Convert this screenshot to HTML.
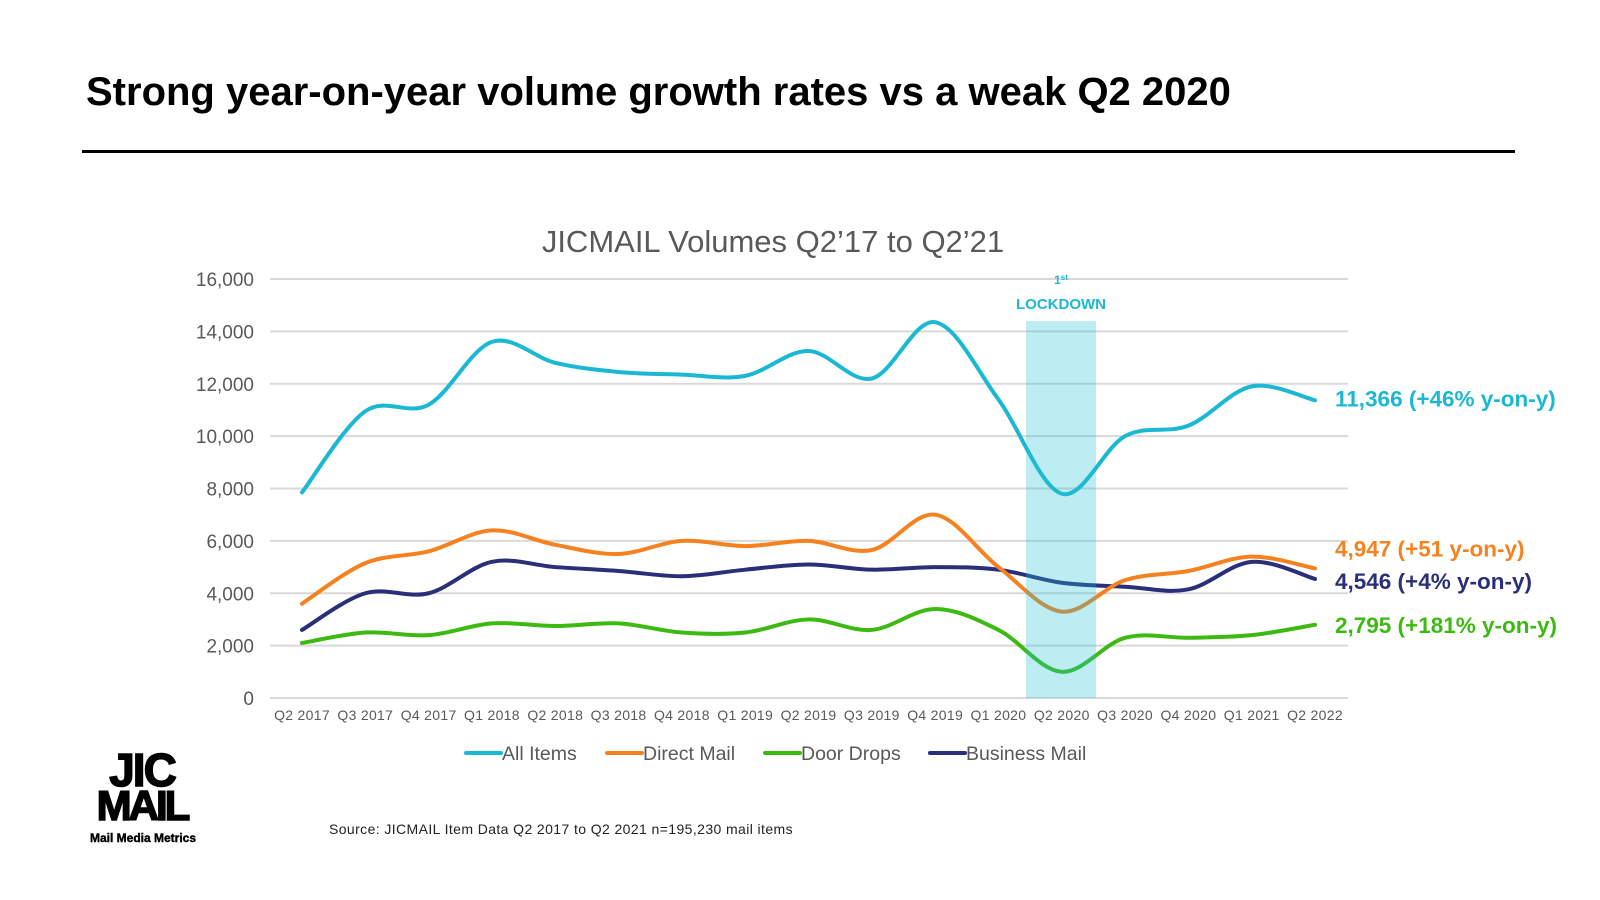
<!DOCTYPE html>
<html><head><meta charset="utf-8"><style>
html,body{margin:0;padding:0;background:#fff;width:1600px;height:900px;overflow:hidden;font-family:"Liberation Sans",Arial,sans-serif;}
</style></head><body>
<svg width="1600" height="900" viewBox="0 0 1600 900" xmlns="http://www.w3.org/2000/svg" font-family="Liberation Sans, Arial, sans-serif">
<text x="86" y="105" font-size="40" font-weight="bold" fill="#000">Strong year-on-year volume growth rates vs a weak Q2 2020</text>
<rect x="82" y="150" width="1433" height="3" fill="#000"/>
<text x="773" y="252" font-size="31" fill="#595959" text-anchor="middle">JICMAIL Volumes Q2’17 to Q2’21</text>
<g id="grid"></g>
<g id="series"></g>
<rect x="1026" y="321" width="70" height="377" fill="#27c0d6" opacity="0.3"/>
<text x="1061" y="284" font-size="12" font-weight="bold" fill="#1ab8d2" text-anchor="middle">1<tspan font-size="8" dy="-4">st</tspan></text>
<text x="1061" y="309" font-size="15" font-weight="bold" fill="#1ab8d2" text-anchor="middle">LOCKDOWN</text>
<g id="labels"></g>
<g id="legend"></g>
<g>
<text x="142" y="786" font-size="46" font-weight="900" fill="#000" text-anchor="middle" letter-spacing="-2" stroke="#000" stroke-width="1.5">JIC</text>
<text x="142" y="820" font-size="42" font-weight="900" fill="#000" text-anchor="middle" letter-spacing="-3" stroke="#000" stroke-width="1.5">MAIL</text>
<text x="143" y="842" font-size="12" font-weight="900" fill="#000" text-anchor="middle" stroke="#000" stroke-width="0.4">Mail Media Metrics</text>
</g>
<text x="329" y="834" font-size="14" fill="#222" letter-spacing="0.4">Source: JICMAIL Item Data Q2 2017 to Q2 2021 n=195,230 mail items</text>
</svg>
<script>
const categories=["Q2 2017","Q3 2017","Q4 2017","Q1 2018","Q2 2018","Q3 2018","Q4 2018","Q1 2019","Q2 2019","Q3 2019","Q4 2019","Q1 2020","Q2 2020","Q3 2020","Q4 2020","Q1 2021","Q2 2022"];
const allItems=[7850,10950,11200,13600,12800,12450,12350,12300,13250,12200,14350,11400,7800,10000,10400,11900,11366];
const directMail=[3600,5150,5600,6400,5850,5500,6000,5800,6000,5650,7000,5000,3300,4500,4850,5400,4947];
const doorDrops=[2100,2500,2400,2850,2750,2850,2500,2500,3000,2600,3400,2600,1000,2300,2300,2400,2795];
const businessMail=[2600,4000,4000,5200,5000,4850,4650,4900,5100,4900,5000,4900,4400,4250,4150,5200,4546];
const yTicks=[0,2000,4000,6000,8000,10000,12000,14000,16000];
const endLabels=["11,366 (+46% y-on-y)","4,947 (+51 y-on-y)","2,795 (+181% y-on-y)","4,546 (+4% y-on-y)"];
const seriesNames=["All Items","Direct Mail","Door Drops","Business Mail"];
const NS="http://www.w3.org/2000/svg";
const X0=302,X1=1315,Y0=698,Y1=279,YMAX=16000;
function xs(i){return X0+(X1-X0)*i/(categories.length-1);}
function ys(v){return Y0-(Y0-Y1)*v/YMAX;}
function mk(t,a,p){const e=document.createElementNS(NS,t);for(const k in a)e.setAttribute(k,a[k]);p.appendChild(e);return e;}
const grid=document.getElementById('grid');
yTicks.forEach(v=>{
 const l=mk('line',{x1:270,x2:1348,y1:ys(v),y2:ys(v),stroke:'#d9d9d9','stroke-width':2},grid);
 
 
 const t=mk('text',{x:254,y:ys(v)+7,'font-size':19,fill:'#595959','text-anchor':'end'},grid);
 t.textContent=v.toLocaleString('en-US');
 
 
});
categories.forEach((c,i)=>{
 const t=mk('text',{x:xs(i),y:720,'font-size':14,fill:'#595959','text-anchor':'middle','letter-spacing':'0.3'},grid);
 t.textContent=c;
 
 
});
function path(vals){
 const p=vals.map((v,i)=>[xs(i),ys(v)]);
 let d='M'+p[0][0]+','+p[0][1];
 for(let i=0;i<p.length-1;i++){
  const a=p[Math.max(0,i-1)],b=p[i],c=p[i+1],e=p[Math.min(p.length-1,i+2)];
  const t=1/6;
  d+=' C'+(b[0]+(c[0]-a[0])*t)+','+(b[1]+(c[1]-a[1])*t)+' '+(c[0]-(e[0]-b[0])*t)+','+(c[1]-(e[1]-b[1])*t)+' '+c[0]+','+c[1];
 }
 return d;
}
const colors=['#1ab8d2','#f5821f','#3cba12','#2a2f7a'];
const data=[allItems,directMail,doorDrops,businessMail];
const sg=document.getElementById('series');
const names=['line-all-items','line-direct-mail','line-door-drops','line-business-mail'];
[2,3,1,0].forEach(k=>{
 const p=mk('path',{d:path(data[k]),fill:'none',stroke:colors[k],'stroke-width':4,'stroke-linecap':'round'},sg);
 
 
});
const lg=document.getElementById('labels');
const lastY=[ys(allItems[16])-2,ys(directMail[16])-20,ys(doorDrops[16]),ys(businessMail[16])+2];
[0,1,2,3].forEach(k=>{
 const t=mk('text',{x:1335,y:lastY[k]+8,'font-size':22.5,'font-weight':'bold',fill:colors[k]},lg);
 t.textContent=endLabels[k];
 
 
});
const leg=document.getElementById('legend');
const lx=[466,607,765,930];
seriesNames.forEach((n,k)=>{
 const g=mk('g',{},leg);
 
 
 mk('line',{x1:lx[k],x2:lx[k]+35,y1:753,y2:753,stroke:colors[k],'stroke-width':4,'stroke-linecap':'round'},g);
 const t=mk('text',{x:lx[k]+36,y:760,'font-size':19.5,fill:'#595959'},g);
 t.textContent=n;
});
</script>
</body></html>
